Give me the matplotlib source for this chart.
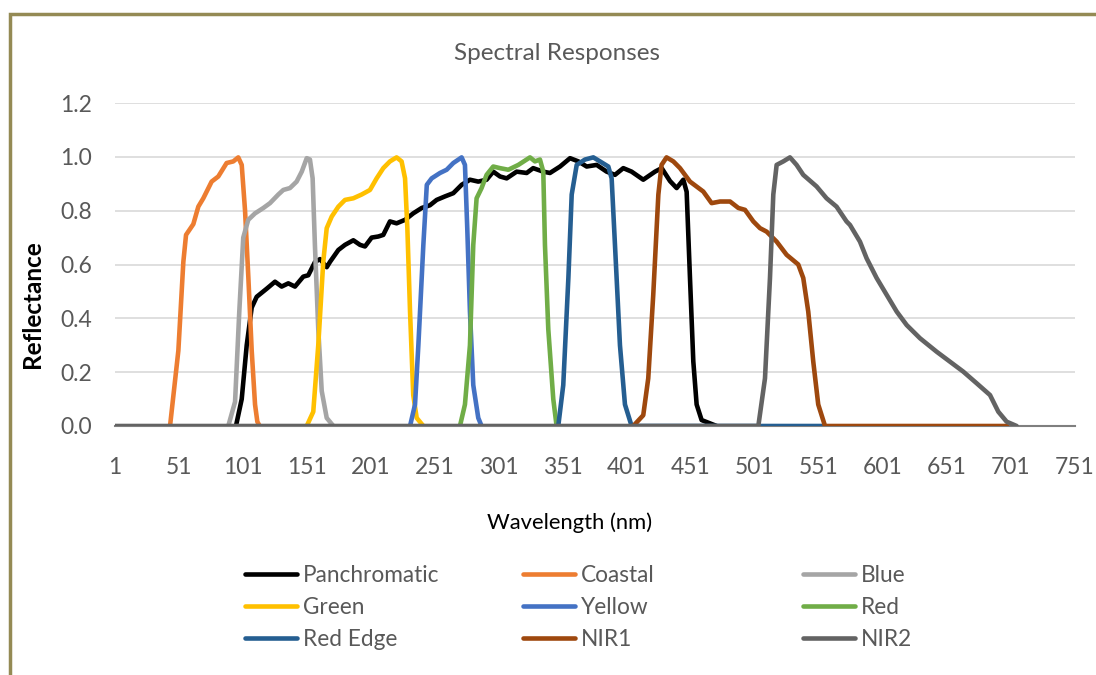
import matplotlib
matplotlib.use("Agg")
import matplotlib.pyplot as plt
from matplotlib.patches import Rectangle

plt.rcParams['font.family'] = ['Lato', 'DejaVu Sans']

# -------- DATA --------
pan_x = [95.5, 100, 103.9, 107.8, 111.7, 119.5, 126, 131.2, 136.4, 141.6, 148.1, 152, 157.3, 161.2,
         166.4, 169, 175.5, 180.7, 187.2, 192.4, 196.3, 201.5, 206.7, 210.6, 215.8, 221, 227.6, 234,
         240.6, 247, 252.3, 258.8, 265.3, 271.8, 278.3, 284.8, 291.3, 296.5, 301.8, 307, 314.8, 322.6,
         327.7, 335.5, 340.8, 348.7, 356.5, 363, 369.5, 377.3, 385.1, 391.6, 398.1, 404.6, 413.7,
         422.9, 428.1, 434.6, 439.8, 445, 447.6, 450.2, 452.8, 455.4, 459.3, 468.4, 471]
pan_y = [0, 0.10, 0.30, 0.44, 0.48, 0.51, 0.536, 0.518, 0.53, 0.518, 0.555, 0.56, 0.61, 0.62,
         0.59, 0.61, 0.654, 0.673, 0.69, 0.673, 0.667, 0.70, 0.704, 0.71, 0.76, 0.753, 0.766, 0.79,
         0.81, 0.82, 0.84, 0.853, 0.865, 0.896, 0.915, 0.908, 0.915, 0.945, 0.927, 0.92, 0.945, 0.94,
         0.958, 0.945, 0.94, 0.964, 0.995, 0.983, 0.964, 0.97, 0.945, 0.933, 0.958, 0.945, 0.915,
         0.945, 0.958, 0.91, 0.884, 0.915, 0.87, 0.55, 0.24, 0.08, 0.022, 0.005, 0]

coastal_x = [44, 50.5, 54.4, 56.5, 62.2, 66.1, 70, 76.5, 81.7, 88.2, 93.4, 97.3, 100, 102.6,
             105.2, 107.8, 110.4, 112.2, 114]
coastal_y = [0, 0.28, 0.61, 0.71, 0.75, 0.815, 0.846, 0.908, 0.927, 0.977, 0.983, 0.998, 0.97, 0.80,
             0.55, 0.28, 0.08, 0.016, 0]

blue_x = [89.5, 94.8, 98.1, 101.2, 105.1, 110.4, 116.9, 122.1, 128.6, 132.5, 137.7, 142.9, 146.9,
          150.8, 153.3, 155.4, 157.2, 159.8, 162.5, 166.4, 171.6]
blue_y = [0, 0.09, 0.425, 0.70, 0.766, 0.79, 0.81, 0.828, 0.86, 0.877, 0.884, 0.908, 0.945,
          0.995, 0.99, 0.92, 0.67, 0.36, 0.13, 0.03, 0]

green_x = [150.8, 155.9, 159.8, 163.7, 166.4, 170.3, 175.5, 180.7, 187.2, 193.7, 200.2, 205.4,
           210.6, 215.8, 221, 224.9, 227.6, 229.4, 231.5, 234, 236.7, 241.9]
green_y = [0, 0.053, 0.30, 0.61, 0.735, 0.778, 0.815, 0.84, 0.846, 0.86, 0.877, 0.92,
           0.958, 0.983, 0.998, 0.983, 0.92, 0.735, 0.425, 0.115, 0.03, 0]

yellow_x = [231.5, 235.4, 238, 241.9, 244.6, 248.4, 254.9, 260.1, 265.3, 271.8, 274.4, 276.2,
            278.3, 280.9, 284.8, 287.4]
yellow_y = [0, 0.08, 0.30, 0.673, 0.896, 0.92, 0.94, 0.952, 0.977, 0.998, 0.97, 0.735,
            0.425, 0.152, 0.03, 0]

red_x = [270.5, 274.4, 278.3, 280.9, 283.5, 287.4, 291.3, 296.5, 301.8, 308.3, 316.1, 325.2,
         329.1, 333, 335.6, 336.9, 339.5, 343.4, 346]
red_y = [0, 0.08, 0.30, 0.673, 0.846, 0.884, 0.933, 0.964, 0.958, 0.952, 0.97, 0.998,
         0.983, 0.99, 0.945, 0.673, 0.36, 0.10, 0]

rededge_x = [347.3, 351.2, 355.2, 357.8, 361.7, 368.2, 374.7, 379.9, 386.4, 389, 391.6, 395.5,
             399.4, 404.6, 555]
rededge_y = [0, 0.152, 0.55, 0.86, 0.97, 0.99, 0.998, 0.983, 0.964, 0.92, 0.673, 0.30,
             0.08, 0, 0]

nir1_x = [405.9, 413.7, 417.6, 421.5, 425.5, 428, 431.9, 437.2, 442.4, 450.2, 460.6, 467.1,
          473.7, 481.5, 488, 493.2, 499.7, 504.9, 510.1, 517.9, 525.7, 534.8, 538.7, 542.6,
          546.5, 550.4, 555.7, 698]
nir1_y = [0, 0.04, 0.177, 0.487, 0.86, 0.97, 0.998, 0.983, 0.958, 0.908, 0.871, 0.828,
          0.834, 0.834, 0.81, 0.803, 0.76, 0.735, 0.722, 0.685, 0.636, 0.60, 0.55, 0.425,
          0.24, 0.08, 0, 0]

nir2_x = [1, 503.6, 508.8, 512.7, 515.3, 517.9, 523.1, 528.3, 533.5, 538.7, 549.1, 556.9,
          564.7, 572.5, 575.2, 583, 588.2, 596, 603.9, 611.7, 619.5, 629.9, 642.9, 653.3,
          663.7, 674.1, 684.6, 691.1, 697.6, 705.4]
nir2_y = [0, 0, 0.177, 0.55, 0.86, 0.97, 0.983, 0.998, 0.97, 0.933, 0.89, 0.846,
          0.815, 0.76, 0.747, 0.685, 0.623, 0.55, 0.487, 0.425, 0.375, 0.326, 0.276, 0.239,
          0.202, 0.159, 0.115, 0.053, 0.016, 0]

names = ["Panchromatic", "Coastal", "Blue", "Green", "Yellow", "Red", "Red Edge", "NIR1", "NIR2"]
colors = ["#000000", "#ED7D31", "#A5A5A5", "#FFC000", "#4472C4", "#70AD47", "#255E91", "#9E480E", "#636363"]
series = [(pan_x, pan_y), (coastal_x, coastal_y), (blue_x, blue_y), (green_x, green_y),
          (yellow_x, yellow_y), (red_x, red_y), (rededge_x, rededge_y), (nir1_x, nir1_y),
          (nir2_x, nir2_y)]

x_ticks = list(range(1, 752, 50))
y_ticks = [0.0, 0.2, 0.4, 0.6, 0.8, 1.0, 1.2]

# -------- FIGURE --------
fig = plt.figure(figsize=(10.96, 6.75), dpi=100)
ax = fig.add_axes([115 / 1096, 1 - 426 / 675, 960 / 1096, 323 / 675])

lines = []
for (xs, ys), name, c in zip(series, names, colors):
    ln, = ax.plot(xs, ys, color=c, lw=3.3, label=name, solid_joinstyle='round',
                  solid_capstyle='round', zorder=3)
    lines.append(ln)

ax.set_xlim(1, 751)
ax.set_ylim(0, 1.2)
ax.set_xticks(x_ticks)
ax.set_yticks(y_ticks)
ax.set_yticklabels([f"{v:.1f}" for v in y_ticks])
ax.tick_params(axis='x', length=0, labelsize=16.5, labelcolor="#595959", pad=22)
ax.tick_params(axis='y', length=0, labelsize=16.5, labelcolor="#595959", pad=16.5)
ax.grid(axis='y', color="#D9D9D9", lw=1.2, zorder=0)
for side in ['top', 'right', 'left']:
    ax.spines[side].set_visible(False)
ax.spines['bottom'].set_color("#7F7F7F")
ax.spines['bottom'].set_linewidth(1.5)
ax.spines['bottom'].set_zorder(2)

fig.text(557 / 1096, 1 - 53 / 675, "Spectral Responses", ha='center', va='center',
         fontsize=17.5, color="#595959")
fig.text(33 / 1096, 1 - 304 / 675, "Reflectance", ha='center', va='center', rotation=90,
         fontsize=17.5, fontweight='bold', color="black")
fig.text(570 / 1096, 1 - 523 / 675, "Wavelength (nm)", ha='center', va='center',
         fontsize=15.8, color="black")

# -------- LEGEND (three equal-width columns, row-wise order like Excel) --------
col_x = [245, 523, 803]
for k in range(3):
    hs = [lines[k], lines[k + 3], lines[k + 6]]
    leg = fig.legend(handles=hs, loc='upper left',
                     bbox_to_anchor=(col_x[k] / 1096, 1 - 565 / 675),
                     frameon=False, fontsize=16.3, handlelength=2.3, handletextpad=0.27,
                     labelspacing=0.48, borderaxespad=0, borderpad=0)
    for t in leg.get_texts():
        t.set_color("#595959")

# -------- BORDER (olive frame, cropped on right and bottom) --------
fig.add_artist(Rectangle((10 / 1096, -1), 2, 1 + (1 - 14 / 675), transform=fig.transFigure,
                         fill=False, ec="#948A54", lw=2.5))

fig.savefig("out.png", dpi=100)
